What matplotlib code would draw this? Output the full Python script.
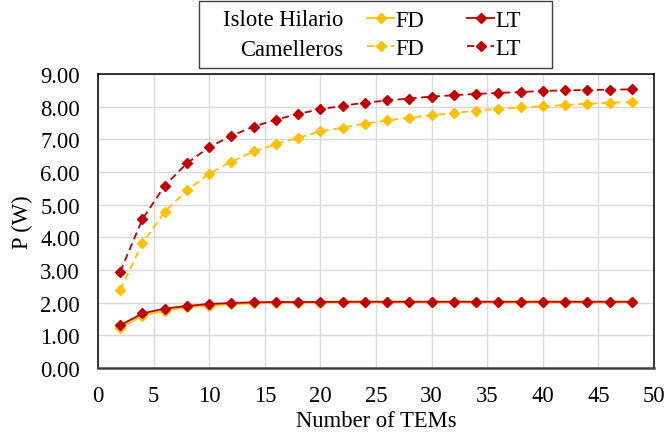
import matplotlib
matplotlib.use("Agg")
import matplotlib.pyplot as plt
from matplotlib.patches import Rectangle

plt.rcParams['font.family'] = ['Liberation Serif', 'DejaVu Serif']

n_tems = [2, 4, 6, 8, 10, 12, 14, 16, 18, 20, 22, 24,
          26, 28, 30, 32, 34, 36, 38, 40, 42, 44, 46, 48]

# Islote Hilario
ih_fd = [1.22, 1.60, 1.76, 1.86, 1.91, 1.95, 1.98, 1.99, 2.00, 2.00, 2.01, 2.01,
         2.01, 2.01, 2.01, 2.01, 2.01, 2.01, 2.01, 2.01, 2.01, 2.01, 2.01, 2.01]
ih_lt = [1.31, 1.67, 1.82, 1.90, 1.96, 1.99, 2.01, 2.02, 2.02, 2.02, 2.03, 2.03,
         2.03, 2.03, 2.03, 2.03, 2.03, 2.03, 2.03, 2.03, 2.03, 2.03, 2.03, 2.03]

# Camelleros
ca_fd = [2.38, 3.83, 4.78, 5.44, 5.95, 6.32, 6.63, 6.85, 7.05, 7.24, 7.36, 7.48,
         7.58, 7.66, 7.74, 7.80, 7.88, 7.93, 7.98, 8.01, 8.05, 8.09, 8.12, 8.14]
ca_lt = [2.95, 4.56, 5.58, 6.27, 6.76, 7.11, 7.39, 7.60, 7.78, 7.92, 8.03, 8.12,
         8.19, 8.25, 8.31, 8.35, 8.39, 8.42, 8.45, 8.48, 8.50, 8.51, 8.52, 8.53]

orange = '#FFC000'
red = '#C00000'
fs = 16.3

fig = plt.figure(figsize=(6.67, 4.39), dpi=100)
ax = fig.add_axes([98 / 667, 1 - 369 / 439, 556 / 667, 294 / 439])

dash = (4, 2.5)
l1, = ax.plot(n_tems, ih_fd, color=orange, lw=1.3, marker='D', ms=5)
l3, = ax.plot(n_tems, ca_fd, color=orange, lw=1.3, ls=(0, dash), marker='D', ms=5)
l2, = ax.plot(n_tems, ih_lt, color=red, lw=1.3, marker='D', ms=5.5)
l4, = ax.plot(n_tems, ca_lt, color=red, lw=1.3, ls=(0, dash), marker='D', ms=5.5)

ax.set_xlim(0, 50)
ax.set_ylim(0, 9)
ax.set_xticks(range(0, 51, 5))
ax.set_yticks(range(0, 10))
ax.set_yticklabels(['%.2f' % v for v in range(0, 10)])
ax.tick_params(length=0, labelsize=fs)
ax.tick_params(axis='y', pad=13)
ax.tick_params(axis='x', pad=12)
ax.grid(True, color='#D9D9D9', lw=1.0)
ax.set_axisbelow(True)
for s in ['top', 'right', 'left']:
    ax.spines[s].set_color('black')
    ax.spines[s].set_linewidth(1.1)
ax.spines['bottom'].set_color('#404040')
ax.spines['bottom'].set_linewidth(1.8)

ax.set_xlabel('Number of TEMs', fontsize=fs, labelpad=3)
ax.set_ylabel('P (W)', fontsize=fs, labelpad=5)

# legend box with row labels
fig.patches.append(Rectangle((199 / 667, 1 - 69 / 439), 353 / 667, 67 / 439,
                             transform=fig.transFigure, fill=False,
                             edgecolor='#404040', lw=1.0))
fig.text(343 / 667, 1 - 21 / 439, 'Islote Hilario', ha='right', va='center', fontsize=fs)
fig.text(343 / 667, 1 - 50 / 439, 'Camelleros', ha='right', va='center', fontsize=fs)
fig.legend([l1, l3, l2, l4], ['FD', 'FD', 'LT', 'LT'], ncol=2,
           loc='center left', bbox_to_anchor=(367 / 667, 1 - 35.5 / 439),
           frameon=False, fontsize=fs, handlelength=1.2, handletextpad=0.05,
           columnspacing=1.9, labelspacing=0.3, borderpad=0, borderaxespad=0)

fig.savefig('out.png', dpi=100)
